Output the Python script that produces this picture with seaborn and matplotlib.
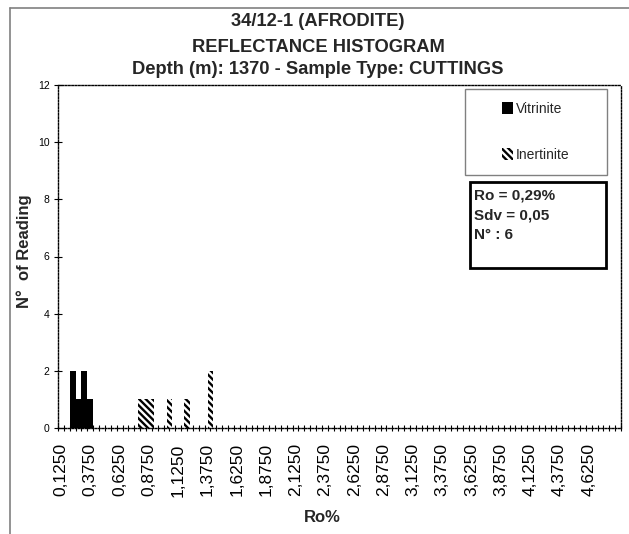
import matplotlib
matplotlib.use("Agg")
import matplotlib.pyplot as plt
import seaborn as sns
from matplotlib.patches import Patch, Rectangle
from matplotlib.lines import Line2D

# ---- chart text ----
title_lines = [
    "34/12-1 (AFRODITE)",
    "REFLECTANCE HISTOGRAM",
    "Depth (m): 1370 - Sample Type: CUTTINGS",
]
x_title = "Ro%"
y_title = "N°  of Reading"
stats_lines = ["Ro = 0,29%", "Sdv = 0,05", "N° : 6"]

# ---- histogram bins (Ro %) ----
bin_start = 0.10
bin_width = 0.05
n_bins = 96

# ---- counts per bin ----
vit_ro = [0.225, 0.275, 0.325, 0.375]
vit_count = [2, 1, 2, 1]
ine_ro = [0.80, 0.85, 0.90, 1.05, 1.20, 1.40]
ine_count = [1, 1, 1, 1, 1, 2]

# ---- axis labels ----
x_tick_labels = ["0,1250", "0,3750", "0,6250", "0,8750", "1,1250", "1,3750",
                 "1,6250", "1,8750", "2,1250", "2,3750", "2,6250", "2,8750",
                 "3,1250", "3,3750", "3,6250", "3,8750", "4,1250", "4,3750",
                 "4,6250"]
y_ticks = [0, 2, 4, 6, 8, 10, 12]

sns.set_theme(style="white")
plt.rcParams["font.family"] = ["Liberation Sans", "DejaVu Sans"]
plt.rcParams["hatch.linewidth"] = 1.7

fig = plt.figure(figsize=(6.29, 5.34), dpi=100)
W, H = 629, 534
ax = fig.add_axes([58 / W, 1 - 428 / H, 563 / W, 343 / H])

sns.barplot(x=vit_ro, y=vit_count, native_scale=True, width=1.0,
            color="black", saturation=1, edgecolor="black", linewidth=0, ax=ax)
sns.barplot(x=ine_ro, y=ine_count, native_scale=True, width=0.88,
            color="white", saturation=1, edgecolor="black", linewidth=0, ax=ax)
hatch = "\\\\\\\\\\"
for bar in ax.containers[-1]:
    bar.set_facecolor("white")
    bar.set_edgecolor("black")
    bar.set_hatch(hatch)
    bar.set_linewidth(0)

x_end = bin_start + n_bins * bin_width
ax.set_xlim(bin_start, x_end)
ax.set_ylim(0, 12)

# bin boundaries carry the tick marks, labels sit at bin centres
bounds = [bin_start + i * bin_width for i in range(n_bins + 1)]
label_pos = [float(s.replace(",", ".")) for s in x_tick_labels]
ax.set_xticks(bounds, minor=True)
ax.set_xticks(label_pos)
ax.set_xticklabels(x_tick_labels, rotation=90, fontsize=12.5)
ax.tick_params(axis="x", which="major", length=0, pad=11, colors="black")
ax.tick_params(axis="x", which="minor", length=5, width=0.8, direction="inout",
               bottom=True, color="black")
ax.set_yticks(y_ticks)
ax.set_yticklabels([str(v) for v in y_ticks], fontsize=7.5)
ax.tick_params(axis="y", length=6, width=0.8, direction="inout", left=True,
               pad=3, colors="black")

for sp in ax.spines.values():
    sp.set_visible(True)
    sp.set_color("black")
    sp.set_linewidth(1.0)
    sp.set_linestyle((0, (1.2, 1.2)))

ax.set_xlabel(x_title, fontsize=12, fontweight="bold")
ax.xaxis.set_label_coords((322 - 58) / 563, (428 - 510) / 343)
ax.set_ylabel(y_title, fontsize=12, fontweight="bold")
ax.yaxis.set_label_coords((32 - 58) / 563, 0.515)

# title block
for txt, yc in zip(title_lines, [22, 47, 70]):
    fig.text(318 / W, 1 - yc / H, txt, ha="center", va="center",
             fontsize=13.2, fontweight="bold")

# legend with its own frame
def ax_xy(px, py):
    return (px - 58) / 563, (428 - py) / 343

lx0, ly0 = ax_xy(465, 175)
lx1, ly1 = ax_xy(607, 89)
ax.add_patch(Rectangle((lx0, ly0), lx1 - lx0, ly1 - ly0, transform=ax.transAxes,
                       facecolor="white", edgecolor="#808080", linewidth=1.0,
                       zorder=5, clip_on=False))
handles = [Patch(facecolor="black", edgecolor="black", linewidth=0),
           Patch(facecolor="white", edgecolor="black", hatch=hatch, linewidth=0)]
leg = ax.legend(handles, ["Vitrinite", "Inertinite"], frameon=False,
                loc="center", bbox_to_anchor=((lx0 + lx1) / 2, (ly0 + ly1) / 2),
                fontsize=10, handlelength=0.75, handleheight=0.95,
                handletextpad=0.25, labelspacing=2.3)
leg.set_zorder(6)

# statistics box
sx0, sy0 = ax_xy(470, 268)
sx1, sy1 = ax_xy(606, 182)
ax.add_patch(Rectangle((sx0, sy0), sx1 - sx0, sy1 - sy0, transform=ax.transAxes,
                       facecolor="white", edgecolor="black", linewidth=2.0,
                       zorder=5, clip_on=False))
for txt, yc in zip(stats_lines, [195, 215, 235]):
    tx, ty = ax_xy(474, yc)
    ax.text(tx, ty, txt, transform=ax.transAxes, ha="left", va="center",
            fontsize=11, fontweight="bold", zorder=6)

# outer chart frame (left and top edges)
fig.add_artist(Line2D([10 / W, 10 / W], [0, 1 - 8 / H], transform=fig.transFigure,
                      color="#808080", linewidth=1.2))
fig.add_artist(Line2D([10 / W, 1], [1 - 8 / H, 1 - 8 / H], transform=fig.transFigure,
                      color="#808080", linewidth=1.2))

fig.savefig("out.png", dpi=100)
